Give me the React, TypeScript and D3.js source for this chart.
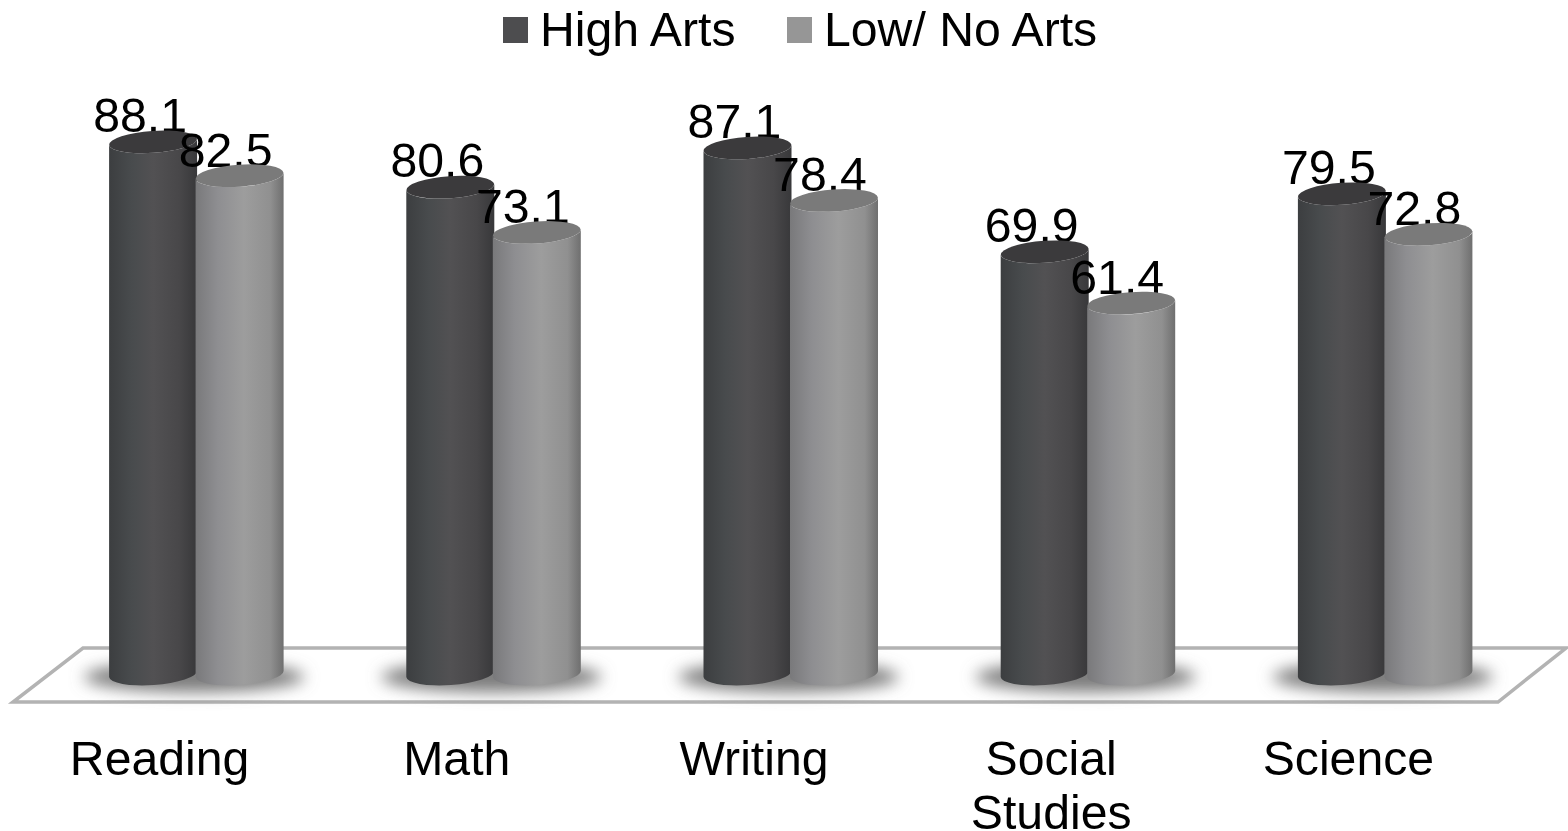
import React from "react";
import * as d3 from "d3";

const categories = ["Reading", "Math", "Writing", "Social Studies", "Science"];
const highArts = [88.1, 80.6, 87.1, 69.9, 79.5];
const lowArts = [82.5, 73.1, 78.4, 61.4, 72.8];
const seriesNames = ["High Arts", "Low/ No Arts"];

const W = 1568, H = 831;
const FONT = "'Liberation Sans', Arial, sans-serif";
const band = d3.scaleBand<string>().domain(categories).range([11, 1497]);
const y = d3.scaleLinear().domain([0, 100]).range([674, 70]);

const RX = 44, RY = 11, TILT = -4;
const DY = RX * Math.sin((TILT * Math.PI) / 180);

function Cylinder({ cx, value, grad, top }: { cx: number; value: number; grad: string; top: string }) {
  const t = y(value), b = y(0);
  const d = `M${cx - RX},${t - DY} L${cx - RX},${b - DY} A${RX},${RY} ${TILT} 0 0 ${cx + RX},${b + DY} L${cx + RX},${t + DY} A${RX},${RY} ${TILT} 0 1 ${cx - RX},${t - DY} Z`;
  return (
    <g>
      <path d={d} fill={`url(#${grad})`} />
      <ellipse cx={cx} cy={t} rx={RX} ry={RY} fill={top} transform={`rotate(${TILT} ${cx} ${t})`} />
    </g>
  );
}

export default function App() {
  const darkX = (c: string) => band(c)! + band.bandwidth() / 2 - 6.5;
  const lightX = (c: string) => band(c)! + band.bandwidth() / 2 + 80;
  return (
    <svg width={W} height={H} viewBox={`0 0 ${W} ${H}`} style={{ position: "absolute", left: 0, top: 0, background: "#fff" }} fontFamily={FONT} fontSize={48.2} fill="#000">
      <defs>
        <linearGradient id="dark">
          <stop offset="0" stopColor="#3c3e40" />
          <stop offset="0.25" stopColor="#484b4d" />
          <stop offset="0.5" stopColor="#525153" />
          <stop offset="0.8" stopColor="#484749" />
          <stop offset="1" stopColor="#38383a" />
        </linearGradient>
        <linearGradient id="light">
          <stop offset="0" stopColor="#79797b" />
          <stop offset="0.25" stopColor="#8e8e91" />
          <stop offset="0.55" stopColor="#9d9d9d" />
          <stop offset="0.85" stopColor="#909090" />
          <stop offset="1" stopColor="#6f6f6f" />
        </linearGradient>
        <filter id="blur" x="-30%" y="-100%" width="160%" height="300%">
          <feGaussianBlur stdDeviation="8" />
        </filter>
      </defs>

      <path d="M13,702 L1498,702 L1566,648 L83,648 Z" fill="#fff" stroke="#b3b3b3" strokeWidth={3.5} strokeLinejoin="miter" />

      {categories.map((c) => (
        <ellipse key={c} cx={darkX(c) + 41} cy={677} rx={110} ry={15} fill="#7a7a7a" filter="url(#blur)" />
      ))}

      {categories.map((c, i) => (
        <g key={c}>
          <text textAnchor="middle" x={darkX(c) - 13} y={y(highArts[i]) - 10}>{highArts[i].toFixed(1)}</text>
          <Cylinder cx={darkX(c)} value={highArts[i]} grad="dark" top="#3b3a3c" />
          <text textAnchor="middle" x={lightX(c) - 14} y={y(lowArts[i]) - 9}>{lowArts[i].toFixed(1)}</text>
          <Cylinder cx={lightX(c)} value={lowArts[i]} grad="light" top="#7a7a7a" />
        </g>
      ))}

      {categories.map((c) => {
        const lines = c.split(" ");
        return (
          <text key={c} x={band(c)! + band.bandwidth() / 2} y={775} textAnchor="middle">
            {lines.map((l, j) => (
              <tspan key={l} x={band(c)! + band.bandwidth() / 2} dy={j === 0 ? 0 : 54}>{l}</tspan>
            ))}
          </text>
        );
      })}

      <rect x={503} y={17} width={25} height={26} fill="#4d4d4f" />
      <text x={540} y={46}>{seriesNames[0]}</text>
      <rect x={787} y={17} width={25} height={26} fill="#969696" />
      <text x={824} y={46}>{seriesNames[1]}</text>
    </svg>
  );
}
